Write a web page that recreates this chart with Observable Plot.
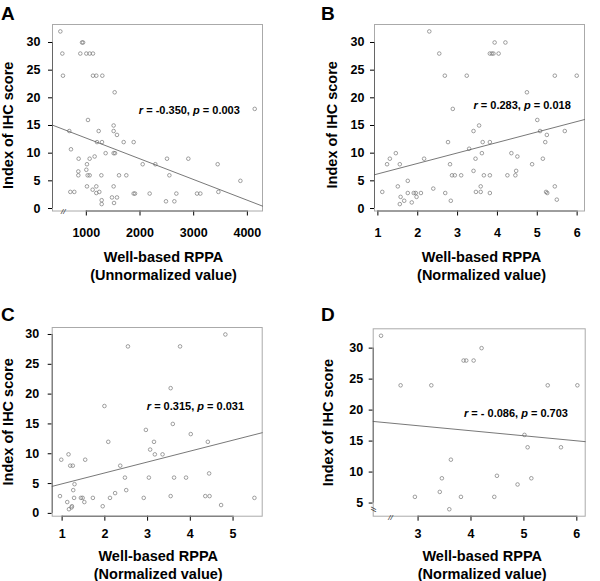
<!DOCTYPE html>
<html><head><meta charset="utf-8">
<script src="https://cdn.jsdelivr.net/npm/d3@7"></script>
<script src="https://cdn.jsdelivr.net/npm/@observablehq/plot@0.6"></script>
<style>
body{margin:0;background:#fff;}
#fig{position:relative;width:600px;height:581px;font-family:"Liberation Sans",Arial,Helvetica,sans-serif;}
.panel{position:absolute;}
.letter{position:absolute;font-weight:bold;font-size:19px;line-height:1;color:#000;}
</style></head><body><div id="fig"></div>
<script>
// ---- Panel A: unnormalized ----
const aX=[516,553,565,920,940,888,1000,1062,1124,1124,1186,1298,1528,1031,683,1230,1509,1509,1571,714,1199,1292,1696,1882,1360,1509,1534,857,1062,1155,1012,1000,851,851,1025,1062,1280,1609,1745,1012,1186,1118,1242,1186,1509,702,776,1478,1571,1286,1286,1516,1882,1907,2180,2050,2286,2503,2547,2484,2640,2677,2900,3062,3124,3447,3460,3870,4137];
const aY=[32,28,24,30,30,28,28,28,28,24,24,24,21,16,14,14,15,14,13.3,10.7,12,12,12,12,10,10,10,9,9,9.4,8,7,6.7,6,6,6,6,6,6,4,4,3.4,3,2.8,4,3,3,2,2,1.5,0.8,1,2.7,2.7,2.7,8,8,9,6,1.3,1.3,2.7,9,2.7,2.7,8,3,5,18];
// ---- Panel B ----
const bX=[1.11,1.23,1.30,1.45,1.50,1.55,1.57,1.55,1.66,1.75,1.75,1.85,1.90,1.95,1.97,2.08,2.16,2.29,2.39,2.54,2.68,2.69,2.76,2.81,2.83,2.88,2.86,2.93,3.09,3.23,3.29,3.40,3.40,3.45,3.46,3.54,3.58,3.58,3.61,3.63,3.66,3.81,3.81,3.81,3.81,3.86,3.90,3.93,4.03,4.20,4.25,4.35,4.45,4.47,4.50,4.74,4.87,5.00,5.07,5.14,5.20,5.22,5.25,5.24,5.44,5.44,5.49,5.69,5.99];
const bY=[3,8,9,10,4,8,2.1,0.8,1.4,5,2.8,1.1,2.8,2.8,2.1,2.8,9,32,3.6,28,24,2.8,12,8,1.4,18,6,6,6,24,10.8,14,6.8,9,3,15,4,3,10,12,6,12,6,2.8,28,28,28,30,28,30,6,10,6,6.8,9.4,21,8,16,14,9,12,3,2.8,13.3,24,4,1.6,14,24];
// ---- Panel C ----
const cX=[0.95,0.98,1.12,1.15,1.16,1.19,1.22,1.23,1.25,1.26,1.28,1.29,1.44,1.48,1.52,1.54,1.72,1.95,1.99,2.08,2.12,2.24,2.36,2.47,2.50,2.54,2.91,2.96,3.03,3.06,3.15,3.17,3.35,3.54,3.54,3.59,3.62,3.76,3.90,4.01,4.35,4.45,4.41,4.44,4.72,4.82,5.50];
const cY=[2.9,9,1.9,9.9,0.7,8,1.0,1.2,8,3.9,2.6,4.9,2.6,2.6,1.9,9,2.6,1.2,18,12,2.6,3.4,8,6,3.9,28,2.6,14,6,10.7,12,9.9,9.9,2.9,21,15,6,28,6,13.3,2.9,2.9,12,6.7,1.4,30,2.6];
// ---- Panel D ----
const dX=[2.30,2.67,2.94,3.25,3.41,3.45,3.59,3.62,3.81,3.86,3.91,4.05,4.20,4.44,4.49,4.88,5.01,5.07,5.14,5.45,5.70,6.01];
const dY=[32,24,6,24,6.8,9,4,12,6,28,28,28,30,6,9.4,8,16,14,9,24,14,24];

// tick values
const yTicks030=[0,5,10,15,20,25,30];
const yTicks530=[5,10,15,20,25,30];
const xTicksA=[1000,2000,3000,4000];
const xTicksB=[1,2,3,4,5,6];
const xTicksC=[1,2,3,4,5];
const xTicksD=[3,4,5,6];

// regression fits: [intercept, slope]
const fitA=[16.45,-0.00374];
const fitB=[4.37,1.892];
const fitC=[3.13,1.830];
const fitD=[19.92,-0.813];

// annotation values
const statR=["-0.350","0.283","0.315","- 0.086"];
const statP=["0.003","0.018","0.031","0.703"];
const letters=["A","B","C","D"];
const yTitle="Index of IHC score";
const xTitles=["Well-based RPPA\n(Unnormalized value)","Well-based RPPA\n(Normalized value)","Well-based RPPA\n(Normalized value)","Well-based RPPA\n(Normalized value)"];

const FONT='"Liberation Sans",Arial,Helvetica,sans-serif';

const panels=[
  {left:0,top:0,h:290,xs:aX,ys:aY,fit:fitA,xTicks:xTicksA,yTicks:yTicks030,
   xDomain:[370,4282],yDomain:[-0.45,33.25],m:[24,38,79.5,52],
   xPad:12,yPad:8,statPos:[2919,17.8],yT:[-43.7,7.5],xT:[6,54],
   breaks:[{dx:10.7,dy:0.5,rotate:0}]},
  {left:300,top:0,h:290,xs:bX,ys:bY,fit:fitB,xTicks:xTicksB,yTicks:yTicks030,
   xDomain:[0.915,6.185],yDomain:[-0.45,33.25],m:[24,16,79.5,74],
   xPad:12,yPad:6,statPos:[4.62,18.6],yT:[-42.3,7],xT:[2,54],breaks:[]},
  {left:0,top:290,h:291,xs:cX,ys:cY,fit:fitC,xTicks:xTicksC,yTicks:yTicks030,
   xDomain:[0.768,5.682],yDomain:[-0.47,31.17],m:[37,38.3,65.3,51.7],
   xPad:8,yPad:9,statPos:[4.12,18.0],yT:[-43.4,0],xT:[1,48.3],breaks:[]},
  {left:300,top:290,h:291,xs:dX,ys:dY,fit:fitD,xTicks:xTicksD,yTicks:yTicks530,
   xDomain:[2.152,6.158],yDomain:[2.88,33.12],m:[38.3,15.3,65.3,72.7],
   xPad:8,yPad:6,statPos:[4.85,19.44],yT:[-44.4,0],xT:[3,48.3],
   breaks:[{dx:0,dy:-6.7,rotate:-90},{dx:17.3,dy:1,rotate:0}]}
];

const fig=document.getElementById("fig");

panels.forEach((p,i)=>{
  const data=p.xs.map((x,j)=>({x,y:p.ys[j]}));
  const line=p.xDomain.map(x=>({x,y:p.fit[0]+p.fit[1]*x}));
  const stat=`r = ${statR[i]}, p = ${statP[i]}`;
  const xt=p.xTicks, yt=p.yTicks;
  const svg=Plot.plot({
    width:300,height:p.h,
    marginTop:p.m[0],marginRight:p.m[1],marginBottom:p.m[2],marginLeft:p.m[3],
    style:{fontFamily:FONT,fontSize:"12.5px",fontWeight:"bold",color:"#000",background:"transparent",overflow:"visible"},
    x:{domain:p.xDomain,ticks:xt,tickFormat:d=>String(d),label:null,tickSize:5,tickPadding:p.xPad},
    y:{domain:p.yDomain,ticks:yt,tickFormat:d=>String(d),label:null,tickSize:4,tickPadding:p.yPad},
    marks:[
      Plot.frame({stroke:"#aaa",strokeWidth:1}),
      Plot.ruleY([p.yDomain[0]],{x1:xt[0],x2:xt[xt.length-1],stroke:"#666",strokeWidth:1}),
      Plot.ruleX([p.xDomain[0]],{y1:yt[0],y2:yt[yt.length-1],stroke:"#666",strokeWidth:1}),
      Plot.dot(data,{x:"x",y:"y",r:1.8,stroke:"#777",strokeWidth:0.7,fill:"none"}),
      Plot.line(line,{x:"x",y:"y",stroke:"#555",strokeWidth:0.8}),
      Plot.text([{x:p.statPos[0],y:p.statPos[1],t:stat}],{x:"x",y:"y",text:"t",fontSize:11,fontWeight:"bold",fill:"#000",textAnchor:"middle",lineAnchor:"middle"}),
      Plot.text([yTitle],{text:d=>d,frameAnchor:"left",rotate:-90,dx:p.yT[0],dy:p.yT[1],textAnchor:"middle",lineAnchor:"middle",fontSize:14.5,fontWeight:"bold",fill:"#000"}),
      Plot.text([xTitles[i]],{text:d=>d,frameAnchor:"bottom",dx:p.xT[0],dy:p.xT[1],textAnchor:"middle",lineAnchor:"middle",lineHeight:1.24,fontSize:14.5,fontWeight:"bold",fill:"#000"}),
      ...p.breaks.map(b=>Plot.text(["//"],{text:d=>d,frameAnchor:"bottom-left",dx:b.dx,dy:b.dy,rotate:b.rotate,textAnchor:"middle",lineAnchor:"middle",fontSize:8,fontStyle:"italic",fontWeight:"normal",fill:"#222"}))
    ]
  });
  // italicise r and p
  d3.select(svg).selectAll("text").each(function(){
    if(this.textContent===stat){
      const el=d3.select(this); el.text(null);
      const parts=[["r",true],[` = ${statR[i]}, `,false],["p",true],[` = ${statP[i]}`,false]];
      parts.forEach(([s,it])=>{const t=el.append("tspan").text(s); if(it) t.attr("font-style","italic");});
    }
  });
  const div=document.createElement("div");
  div.className="panel";
  div.style.left=p.left+"px"; div.style.top=p.top+"px";
  div.style.width="300px"; div.style.height=p.h+"px";
  div.appendChild(svg);
  const L=document.createElement("div");
  L.className="letter"; L.textContent=letters[i];
  L.style.left=(i%2===0?1:21)+"px";
  L.style.top=(i<2?4:15)+"px";
  div.appendChild(L);
  fig.appendChild(div);
});
</script>
</body></html>
